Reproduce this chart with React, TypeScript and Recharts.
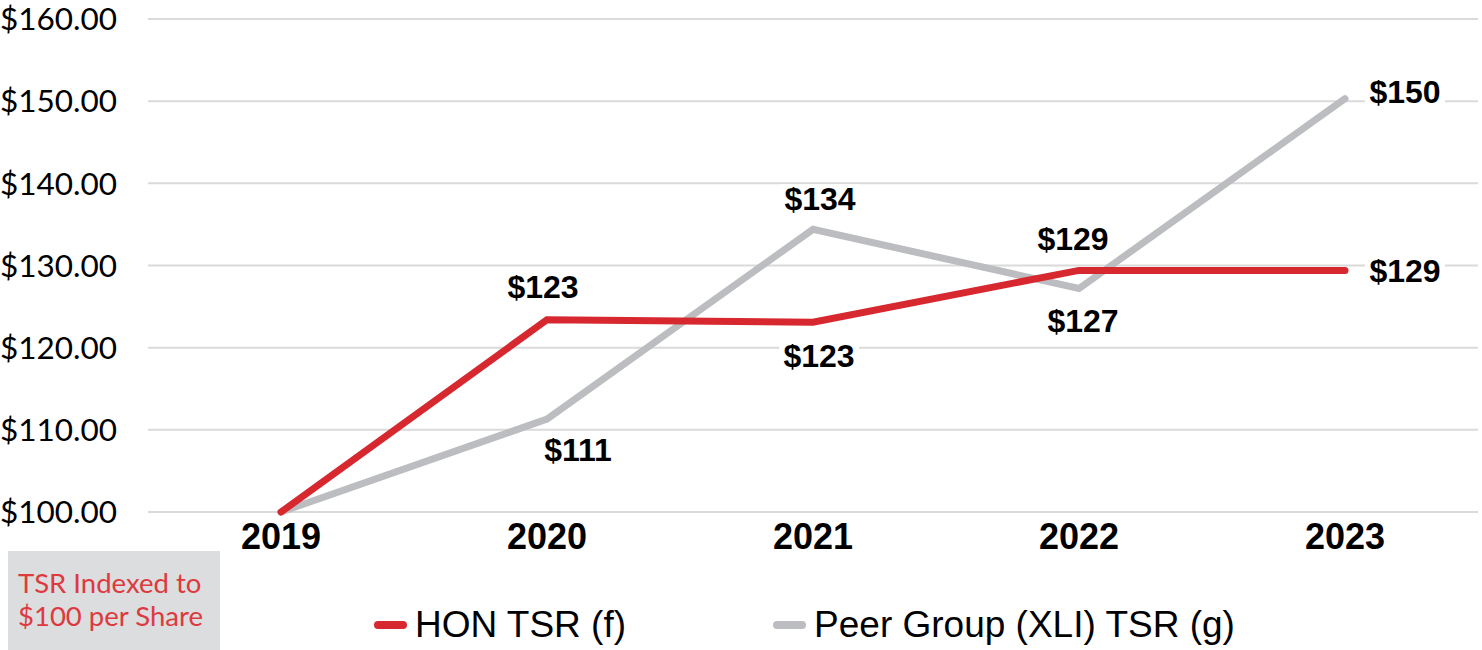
import React from 'react';
import { LineChart, Line, XAxis, YAxis, CartesianGrid, LabelList } from 'recharts';

const years = ['2019', '2020', '2021', '2022', '2023'];
const honTsr = [100, 123.4, 123.1, 129.4, 129.4];
const peerTsr = [100, 111.3, 134.4, 127.2, 150.3];
const yTicks = [100, 110, 120, 130, 140, 150, 160];

const RED = '#d7282f';
const GRAY = '#bcbdc0';

// where each point's value label sits, relative to the point
const HON_LABEL_POS = [null, { dx: -4, dy: -33 }, { dx: 6, dy: 33 }, { dx: -6, dy: -32 }, { dx: 23, dy: 0, anchor: 'start' }];
const PEER_LABEL_POS = [null, { dx: 31, dy: 30 }, { dx: 7, dy: -31 }, { dx: 4, dy: 32 }, { dx: 23, dy: -7, anchor: 'start' }];

const data = years.map((year, i) => ({ year, hon: honTsr[i], peer: peerTsr[i] }));

const series = [
  { key: 'hon', name: 'HON TSR (f)', color: RED },
  { key: 'peer', name: 'Peer Group (XLI) TSR (g)', color: GRAY },
];

const makeLabel = (positions: any[]) => (props: any) => {
  const { x, y, value, index } = props;
  const pos = positions[index];
  if (!pos) return null;
  const text = '$' + Math.round(value);
  const w = 74;
  const cx = pos.anchor === 'start' ? x + pos.dx + w / 2 : x + pos.dx;
  const cy = y + pos.dy;
  return (
    <g>
      <rect x={cx - w / 2 - 3} y={cy - 14} width={w + 6} height={28} fill="#fff" />
      <text
        x={cx}
        y={cy}
        dy="0.36em"
        textAnchor="middle"
        fontFamily="'Liberation Sans', Arial, sans-serif"
        fontWeight="bold"
        fontSize={32}
        fill="#000"
      >
        {text}
      </text>
    </g>
  );
};

export default function App() {
  return (
    <div style={{ position: 'absolute', left: 0, top: 0, width: 1482, height: 650, background: '#fff' }}>
      <LineChart width={1482} height={650} data={data} margin={{ top: 19, right: 4, left: 0, bottom: 78 }}>
        <CartesianGrid vertical={false} stroke="#dadada" strokeWidth={2} />
        <XAxis
          dataKey="year"
          axisLine={false}
          tickLine={false}
          tickSize={0}
          tickMargin={11}
          height={60}
          padding={{ left: 133, right: 133 }}
          tick={{ fill: '#000', fontSize: 36, fontWeight: 'bold', fontFamily: "'Liberation Sans', Arial, sans-serif" }}
        />
        <YAxis
          domain={[100, 160]}
          ticks={yTicks}
          axisLine={false}
          tickLine={false}
          tickSize={0}
          tickMargin={31}
          width={148}
          tickFormatter={(v) => '$' + v.toFixed(2)}
          tick={{ fill: '#000', fontSize: 31.5, fontFamily: 'Lato, sans-serif' }}
        />
        <Line
          type="linear"
          dataKey="peer"
          stroke={GRAY}
          strokeWidth={7}
          strokeLinecap="round"
          dot={false}
          activeDot={false}
          isAnimationActive={false}
        >
          <LabelList dataKey="peer" content={makeLabel(PEER_LABEL_POS)} />
        </Line>
        <Line
          type="linear"
          dataKey="hon"
          stroke={RED}
          strokeWidth={7}
          strokeLinecap="round"
          dot={false}
          activeDot={false}
          isAnimationActive={false}
        >
          <LabelList dataKey="hon" content={makeLabel(HON_LABEL_POS)} />
        </Line>
      </LineChart>

      <div
        style={{
          position: 'absolute',
          left: 8,
          top: 551,
          width: 212,
          height: 99,
          background: '#dcddde',
          color: '#dd3a3f',
          fontFamily: 'Lato, sans-serif',
          fontSize: 27.5,
          lineHeight: '33px',
          padding: '15px 0 0 10px',
          boxSizing: 'border-box',
          whiteSpace: 'nowrap',
        }}
      >
        TSR Indexed to
        <br />
        $100 per Share
      </div>

      <div
        style={{
          position: 'absolute',
          left: 374,
          top: 603,
          display: 'flex',
          gap: 147,
          fontFamily: "'Liberation Sans', Arial, sans-serif",
          fontSize: 37,
          lineHeight: '44px',
          color: '#000',
        }}
      >
        {series.map((s) => (
          <div key={s.key} style={{ display: 'flex', alignItems: 'center', gap: 8 }}>
            <span style={{ width: 33, height: 8, borderRadius: 4, background: s.color, display: 'inline-block' }} />
            <span>{s.name}</span>
          </div>
        ))}
      </div>
    </div>
  );
}
